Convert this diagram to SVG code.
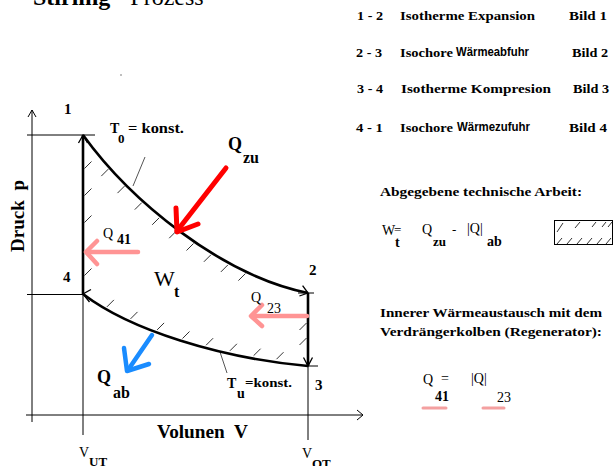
<svg xmlns="http://www.w3.org/2000/svg" width="615" height="466" viewBox="0 0 615 466">
<style>
text{font-family:"Liberation Serif","Times New Roman",serif;fill:#000}
.b{font-weight:bold}
.sans{font-family:"Liberation Sans",Arial,sans-serif}
.thin{fill:none;stroke:#000;stroke-width:1}
.gray{fill:none;stroke:#555;stroke-width:1}
.cyc{fill:none;stroke:#000;stroke-width:2.6;stroke-linejoin:round}
.head{fill:none;stroke:#000;stroke-width:1.3}
.hatch{fill:none;stroke:#333;stroke-width:1}
.red{fill:none;stroke:#ff0000;stroke-width:5;stroke-linecap:round;stroke-linejoin:round}
.pink{fill:none;stroke:#ff9494;stroke-width:4.5;stroke-linecap:round;stroke-linejoin:round}
.blue{fill:none;stroke:#1a8cff;stroke-width:4.5;stroke-linecap:round;stroke-linejoin:round}
</style>
<rect width="615" height="466" fill="#fff"/>

<g id="title">
<text x="33" y="5" font-size="24"><tspan class="b">Stirling</tspan> - Prozess</text>
<rect x="120.5" y="74.5" width="1" height="1" fill="#000"/>
</g>

<g id="legend" font-size="13">
<text class="b" x="357" y="20" textLength="26" lengthAdjust="spacingAndGlyphs">1 - 2</text>
<text class="b" x="400" y="20" textLength="135" lengthAdjust="spacingAndGlyphs">Isotherme Expansion</text>
<text class="b" x="569" y="20" textLength="38" lengthAdjust="spacingAndGlyphs">Bild 1</text>
<text class="b" x="356" y="57" textLength="26" lengthAdjust="spacingAndGlyphs">2 - 3</text>
<text class="b" x="400" y="57" textLength="53" lengthAdjust="spacingAndGlyphs">Isochore</text>
<text class="b sans" x="456" y="56" font-size="12" textLength="73" lengthAdjust="spacingAndGlyphs">Wärmeabfuhr</text>
<text class="b" x="572" y="57" textLength="36" lengthAdjust="spacingAndGlyphs">Bild 2</text>
<text class="b" x="357" y="93" textLength="26" lengthAdjust="spacingAndGlyphs">3 - 4</text>
<text class="b" x="401" y="93" textLength="150" lengthAdjust="spacingAndGlyphs">Isotherme Kompresion</text>
<text class="b" x="573" y="93" textLength="36" lengthAdjust="spacingAndGlyphs">Bild 3</text>
<text class="b" x="356" y="132" textLength="27" lengthAdjust="spacingAndGlyphs">4 - 1</text>
<text class="b" x="400" y="132" textLength="53" lengthAdjust="spacingAndGlyphs">Isochore</text>
<text class="b sans" x="457" y="131" font-size="12" textLength="73" lengthAdjust="spacingAndGlyphs">Wärmezufuhr</text>
<text class="b" x="569" y="132" textLength="38" lengthAdjust="spacingAndGlyphs">Bild 4</text>
</g>

<g id="axes">
<path class="thin" d="M32,110 V422 M26,415 H363"/>
<path class="thin" d="M28,117 L32,110 L36,117 M357,410 L363,415 L357,420"/>
<path class="thin" d="M27,135 H95 M27,294.5 H83 M83,294 V435 M308,366 V440 M298,293 H314 M308,366 H318"/>
</g>

<g id="hatching">
<path class="hatch" d="M84.5,168.5 l7,-7 M84.5,195.5 l7,-7 M84.5,222.5 l7,-7 M84.5,275.5 l7,-7
M101.3,176.1 l7,-7 M117.5,193.1 l7,-7 M134.8,209.6 l7,-7 M152.2,224.8 l7,-7 M169.2,238.2 l7,-7 M186.5,250.5 l7,-7 M203.9,261.8 l7,-7 M220.9,271.9 l7,-7 M238.4,280.6 l7,-7
M106.9,306.9 l7,-7 M130.5,318.9 l7,-7 M157.1,329.9 l7,-7 M182.5,338.5 l7,-7 M206.1,345.2 l7,-7 M229.9,350.8 l7,-7 M253.6,355.7 l7,-7 M276.5,359.2 l7,-7
M299.5,330 l7,-7 M299.5,345 l7,-7"/>
<path class="gray" d="M133,186 L145,157 M220,352 L227,373"/>
</g>

<g id="connectors">
<path id="c41" class="cyc" d="M83,294 V135"/>
<path id="c12" class="cyc" d="M83,135 C130,200 220,275 308,293"/>
<path id="c23" class="cyc" d="M308,293 V366"/>
<path id="c34" class="cyc" d="M308,366 C220,358 130,330 83,294"/>
<path class="head" d="M78.5,143 L83,135 L87.5,143 M302.6,285.6 L308,293 L299.4,296 M303.5,357.5 L308,366 L312.5,357.5 M91,289.5 L83,294 L89.5,302"/>
</g>

<g id="points" font-size="15" class="b">
<text class="b" x="64" y="114">1</text>
<text class="b" x="309" y="275">2</text>
<text class="b" x="315" y="390">3</text>
<text class="b" x="63" y="282">4</text>
</g>

<g id="heat">
<path class="red" d="M226,168 L177,231"/>
<path class="red" d="M176,208 L177,232 L198,224"/>
<path class="pink" d="M138,252 L87,252"/>
<path class="pink" d="M97,241 L86,252 L97,264"/>
<path class="pink" d="M307,316 L252,316"/>
<path class="pink" d="M262,305 L251,316 L262,326"/>
<path class="blue" d="M152,335 L128,370"/>
<path class="blue" d="M124,348 L127,371 L149,364"/>
</g>

<g id="labels">
<text class="b" x="110" y="133" font-size="14">T</text>
<text class="b" x="118" y="143" font-size="13">0</text>
<text class="b" x="128" y="133" font-size="14" textLength="56" lengthAdjust="spacingAndGlyphs">= konst.</text>
<text class="b" x="228" y="150" font-size="18">Q</text>
<text class="b" x="243" y="163" font-size="16">zu</text>
<text x="103" y="238" font-size="14">Q</text>
<text class="b" x="117" y="244" font-size="14">41</text>
<text x="154" y="286" font-size="22">W</text>
<text class="b" x="174" y="297" font-size="16">t</text>
<text x="251" y="302" font-size="14">Q</text>
<text x="267" y="313" font-size="14">23</text>
<text class="b" x="97" y="383" font-size="18">Q</text>
<text class="b" x="113" y="398" font-size="16">ab</text>
<text class="b" x="227" y="388" font-size="14">T</text>
<text class="b" x="237" y="398" font-size="14">u</text>
<text class="b" x="245" y="387" font-size="13" textLength="47" lengthAdjust="spacingAndGlyphs">=konst.</text>
<text class="b" x="157" y="438" font-size="18" textLength="91" lengthAdjust="spacingAndGlyphs" xml:space="preserve">Volunen  V</text>
<text x="79" y="457" font-size="14">V</text>
<text class="b" x="89" y="466" font-size="13">UT</text>
<text x="302" y="458" font-size="14">V</text>
<text class="b" x="312" y="468" font-size="13">OT</text>
<text class="b" x="0" y="0" font-size="18" transform="translate(24,252) rotate(-90)" textLength="72" lengthAdjust="spacingAndGlyphs" xml:space="preserve">Druck  p</text>
</g>

<g id="formula">
<text class="b" x="380" y="196" font-size="13" textLength="202" lengthAdjust="spacingAndGlyphs">Abgegebene technische Arbeit:</text>
<text x="382" y="235" font-size="14">W</text>
<text x="394" y="234" font-size="13">=</text>
<text class="b" x="395" y="247" font-size="14">t</text>
<text x="422" y="234" font-size="14">Q</text>
<text class="b" x="433" y="246" font-size="13">zu</text>
<text x="452" y="234" font-size="13">-</text>
<text x="467" y="233" font-size="14">|Q|</text>
<text class="b" x="487" y="246" font-size="14">ab</text>
<rect x="554.5" y="220.5" width="58" height="24" fill="none" stroke="#000" stroke-width="1"/>
<path class="hatch" d="M557,232 l6,-9 M575,228 l5,-6 M592,227 l4,-5 M602,227 l4,-5 M608,227 l4,-5 M557,244 l5,-6 M567,244 l5,-6 M577,244 l5,-6 M587,244 l5,-6 M597,244 l5,-6 M606,244 l5,-6"/>
</g>

<g id="regenerator">
<text class="b" x="380" y="317" font-size="13" textLength="222" lengthAdjust="spacingAndGlyphs">Innerer Wärmeaustausch mit dem</text>
<text class="b" x="380" y="336" font-size="13" textLength="222" lengthAdjust="spacingAndGlyphs">Verdrängerkolben (Regenerator):</text>
<text x="423" y="384" font-size="14">Q</text>
<text x="441" y="383" font-size="14">=</text>
<text x="471" y="383" font-size="14">|Q|</text>
<text class="b" x="435" y="401" font-size="14">41</text>
<text x="497" y="402" font-size="14">23</text>
<path d="M423,408 H446 M483,408 H504" fill="none" stroke="#f4a0a0" stroke-width="3" stroke-linecap="round"/>
</g>
</svg>
